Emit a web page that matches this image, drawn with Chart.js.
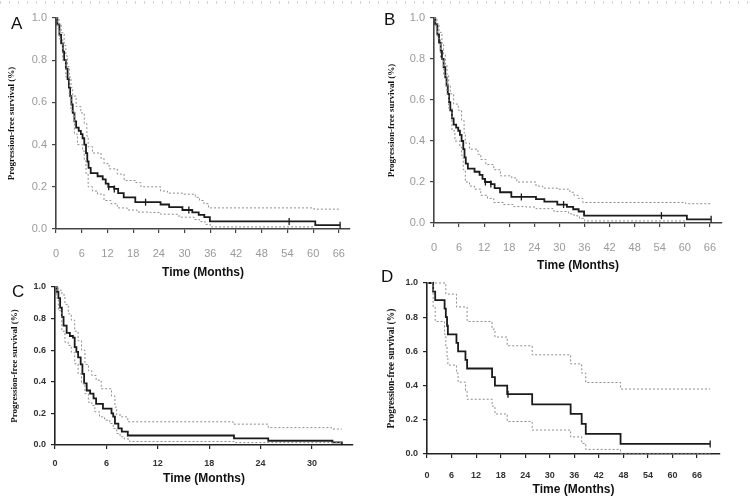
<!DOCTYPE html>
<html>
<head>
<meta charset="utf-8">
<script src="https://cdn.jsdelivr.net/npm/chart.js@4.4.0/dist/chart.umd.min.js"></script>
<style>
  body { margin: 0; background: #fff; }
  #page { position: relative; width: 750px; height: 500px; overflow: hidden; background: #fff; }
  .panel { position: absolute; }
  .panel canvas { display: block; }
  .letter { position: absolute; font: 17px/17px "Liberation Sans", Arial, sans-serif; color: #111; }
  .edge { position: absolute; left: 0; top: 1px; width: 750px; height: 3px;
          background: repeating-linear-gradient(90deg, #d4d4d4 0 1px, transparent 1px 9px); }
</style>
</head>
<body>
<div id="page">
  <div class="edge"></div>
  <div class="panel" style="left:0;top:0"><canvas id="chartA" width="365" height="285"></canvas></div>
  <div class="panel" style="left:375px;top:0"><canvas id="chartB" width="360" height="280"></canvas></div>
  <div class="panel" style="left:0;top:270px"><canvas id="chartC" width="365" height="222"></canvas></div>
  <div class="panel" style="left:375px;top:265px"><canvas id="chartD" width="360" height="235"></canvas></div>
  <div class="letter" style="left:11px;top:15px">A</div>
  <div class="letter" style="left:384px;top:11px">B</div>
  <div class="letter" style="left:12px;top:283px">C</div>
  <div class="letter" style="left:381px;top:268px">D</div>
</div>
<script>
// Panels A and B show the same Kaplan-Meier curve
const abTime = [0, 0.3, 0.8, 1.2, 1.6, 1.9, 2.3, 2.7, 3.0, 3.3, 3.6, 3.9, 4.3, 4.7, 5.3, 5.8, 6.2, 6.6, 7.0, 7.3, 7.6, 8.1, 9.7, 10.9, 11.6, 12.2, 13.6, 14.5, 15.8, 18.5, 24.4, 26.4, 29.5, 31.8, 33.3, 34.6, 35.9, 60.5, 66.3];
const abSurv = [1, 0.97, 0.92, 0.88, 0.84, 0.80, 0.76, 0.71, 0.67, 0.63, 0.59, 0.55, 0.51, 0.48, 0.465, 0.45, 0.43, 0.40, 0.36, 0.32, 0.29, 0.265, 0.25, 0.235, 0.215, 0.2, 0.19, 0.17, 0.15, 0.127, 0.116, 0.104, 0.09, 0.079, 0.067, 0.056, 0.036, 0.018, 0.018];
const abUpperTime = [0, 0.7, 1.2, 1.9, 2.3, 2.7, 3.1, 3.5, 3.9, 4.7, 5.8, 6.6, 7.2, 7.5, 8.5, 10.5, 11.2, 12.4, 14.3, 15.9, 18.6, 19.8, 24.4, 26.0, 29.5, 32.5, 33.5, 34.5, 35.6, 60.2, 66.3];
const abUpper = [1, 0.97, 0.93, 0.87, 0.82, 0.77, 0.72, 0.67, 0.63, 0.58, 0.55, 0.5, 0.44, 0.39, 0.36, 0.335, 0.31, 0.285, 0.26, 0.23, 0.22, 0.2, 0.18, 0.17, 0.165, 0.15, 0.135, 0.12, 0.1, 0.094, 0.094];
const abLowerTime = [0, 0.4, 0.8, 1.55, 2.3, 3.1, 3.5, 4.3, 5.0, 6.2, 6.6, 7.0, 7.5, 8.5, 9.7, 11.2, 12.8, 14.3, 16.6, 18.9, 22, 24.4, 28.7, 32.2, 33.5, 34.8, 36.0, 60.5];
const abLower = [1, 0.95, 0.9, 0.8, 0.72, 0.63, 0.56, 0.45, 0.4, 0.37, 0.33, 0.26, 0.2, 0.18, 0.165, 0.135, 0.12, 0.1, 0.09, 0.08, 0.078, 0.07, 0.056, 0.045, 0.035, 0.022, 0.01, 0.01];
const abCensorTime = [12.3, 13.6, 20.9, 31.0, 54.4, 66.3];
const abCensorSurv = [0.2, 0.19, 0.127, 0.09, 0.036, 0.018];

const cTime = [0, 0.2, 0.4, 0.6, 0.8, 1.0, 1.36, 1.74, 2.1, 2.3, 2.5, 2.7, 3.0, 3.2, 3.4, 3.7, 4.1, 4.5, 4.8, 5.6, 6.6, 6.8, 7.0, 7.4, 7.8, 8.5, 20.9, 24.9, 32.4, 33.5];
const cSurv = [1, 0.97, 0.93, 0.87, 0.81, 0.755, 0.71, 0.69, 0.68, 0.62, 0.59, 0.555, 0.51, 0.45, 0.39, 0.345, 0.325, 0.295, 0.26, 0.23, 0.2, 0.18, 0.135, 0.105, 0.085, 0.06, 0.042, 0.027, 0.017, 0];
const cUpperTime = [0, 0.4, 0.8, 1.16, 1.55, 1.9, 2.3, 2.7, 3.1, 3.5, 3.9, 4.3, 4.8, 5.4, 6.6, 7.0, 7.2, 7.75, 8.5, 20.8, 24.9, 32.3, 33.5];
const cUpper = [1, 0.98, 0.95, 0.89, 0.83, 0.79, 0.72, 0.66, 0.6, 0.51, 0.47, 0.44, 0.41, 0.356, 0.31, 0.24, 0.19, 0.178, 0.147, 0.132, 0.11, 0.101, 0.101];
const cLowerTime = [0, 0.2, 0.4, 0.8, 1.16, 1.55, 1.9, 2.3, 2.7, 3.1, 3.5, 3.9, 4.3, 4.65, 5.2, 5.8, 6.4, 6.8, 7.2, 7.6, 8.1, 8.7, 20.9, 33.5];
const cLower = [1, 0.93, 0.85, 0.72, 0.65, 0.63, 0.587, 0.514, 0.45, 0.39, 0.325, 0.27, 0.25, 0.21, 0.178, 0.157, 0.136, 0.105, 0.073, 0.052, 0.038, 0.022, 0.015, 0.015];

const dTime = [0, 1.5, 2.0, 4.3, 4.6, 4.9, 5.1, 7.2, 7.6, 9.4, 9.8, 15.9, 16.6, 19.6, 25.7, 35.1, 37.8, 38.8, 47.3, 69.2];
const dSurv = [1, 0.95, 0.9, 0.85, 0.8, 0.75, 0.7, 0.65, 0.6, 0.55, 0.5, 0.45, 0.4, 0.35, 0.29, 0.235, 0.176, 0.118, 0.059, 0.059];
const dUpperTime = [0, 4.6, 7.2, 9.8, 15.9, 16.6, 19.6, 25.7, 35.1, 37.8, 38.8, 47.3, 69.2];
const dUpper = [1, 0.935, 0.86, 0.775, 0.73, 0.684, 0.633, 0.58, 0.527, 0.473, 0.418, 0.38, 0.38];
const dLowerTime = [0, 1.5, 2.0, 4.3, 4.6, 4.9, 5.1, 7.2, 7.6, 9.4, 9.8, 15.9, 16.6, 19.6, 25.7, 35.1, 37.8, 38.8, 47.3, 69.2];
const dLower = [1, 0.86, 0.775, 0.7, 0.63, 0.57, 0.52, 0.473, 0.42, 0.37, 0.32, 0.28, 0.234, 0.19, 0.14, 0.1, 0.062, 0.027, 0.004, 0.004];
const dCensorTime = [19.8, 69.2];
const dCensorSurv = [0.35, 0.059];

const yTitle = "Progression-free survival (%)";
const xTitle = "Time (Months)";

const lightStyle = {
  tickFont: { family: "'Liberation Sans Narrow', 'Arial Narrow', 'Liberation Sans', sans-serif", size: 11 },
  tickColor: "#9a9a9a",
  axisColor: "#444",
};
const darkStyle = {
  tickFont: { family: "'Liberation Sans', Arial, sans-serif", size: 9, weight: "bold" },
  tickColor: "#333",
  axisColor: "#222",
};

function toPoints(times, values) {
  return times.map((t, i) => ({ x: t, y: values[i] }));
}

function ciLine(times, values) {
  return {
    data: toPoints(times, values),
    stepped: true,
    borderColor: "#8c8c8c",
    borderWidth: 1,
    borderDash: [2, 2],
    pointRadius: 0,
    clip: false,
  };
}

function kmChart(canvasId, cfg) {
  const ctx = document.getElementById(canvasId).getContext("2d");
  const st = cfg.style;
  const datasets = [
    ciLine(cfg.upperTime, cfg.upper),
    ciLine(cfg.lowerTime, cfg.lower),
    {
      data: toPoints(cfg.time, cfg.surv),
      stepped: true,
      borderColor: "#1b1b1b",
      borderWidth: 1.8,
      pointRadius: 0,
      clip: false,
    },
  ];
  if (cfg.censorTime) {
    datasets.push({
      data: toPoints(cfg.censorTime, cfg.censorSurv),
      showLine: false,
      pointStyle: "line",
      pointRotation: 90,
      pointRadius: 3.5,
      pointBorderColor: "#1b1b1b",
      pointBorderWidth: 1.3,
      clip: false,
    });
  }
  return new Chart(ctx, {
    type: "line",
    data: { datasets },
    options: {
      responsive: false,
      animation: false,
      layout: { padding: cfg.pad },
      plugins: { legend: { display: false }, tooltip: { enabled: false } },
      scales: {
        x: {
          type: "linear",
          min: 0,
          max: cfg.xMax,
          afterFit: (scale) => { scale.height = cfg.xHeight; },
          grid: { drawOnChartArea: false, drawTicks: true, tickLength: 4, color: st.axisColor, lineWidth: 1.2 },
          border: { display: true, color: st.axisColor, width: 1.6 },
          ticks: {
            stepSize: 6,
            includeBounds: false,
            color: st.tickColor,
            font: st.tickFont,
            padding: cfg.xTickPad,
            maxRotation: 0,
            callback: (v) => v,
          },
          title: {
            display: true,
            text: xTitle,
            color: "#111",
            font: { family: "'Liberation Sans Narrow', 'Arial Narrow', 'Liberation Sans', sans-serif", size: 12, weight: "bold" },
            padding: { top: 0, bottom: cfg.xTitlePad },
          },
        },
        y: {
          min: 0,
          max: 1,
          afterFit: (scale) => { scale.width = cfg.yWidth; },
          grid: { drawOnChartArea: false, drawTicks: true, tickLength: 4, color: st.axisColor, lineWidth: 1.2 },
          border: { display: true, color: st.axisColor, width: 1.6 },
          ticks: {
            stepSize: 0.2,
            color: st.tickColor,
            font: st.tickFont,
            padding: 5,
            callback: (v) => v.toFixed(1),
          },
          title: {
            display: true,
            text: yTitle,
            color: "#111",
            font: { family: "'Liberation Serif', 'Times New Roman', serif", size: cfg.yTitleSize, weight: "bold" },
            padding: { top: cfg.yTitlePad, bottom: 0 },
          },
        },
      },
    },
  });
}

kmChart("chartA", {
  time: abTime, surv: abSurv, upperTime: abUpperTime, upper: abUpper, lowerTime: abLowerTime, lower: abLower,
  censorTime: abCensorTime, censorSurv: abCensorSurv, style: lightStyle,
  xMax: 68.6, pad: { left: 2, top: 18, right: 15, bottom: 0 },
  yWidth: 54, xHeight: 56, xTickPad: 14, xTitlePad: 5, yTitlePad: 4.6, yTitleSize: 9,
});

kmChart("chartB", {
  time: abTime, surv: abSurv, upperTime: abUpperTime, upper: abUpper, lowerTime: abLowerTime, lower: abLower,
  censorTime: abCensorTime, censorSurv: abCensorSurv, style: lightStyle,
  xMax: 68.9, pad: { left: 2, top: 18, right: 13, bottom: 0 },
  yWidth: 57, xHeight: 57, xTickPad: 14, xTitlePad: 7, yTitlePad: 9.6, yTitleSize: 9,
});

kmChart("chartC", {
  time: cTime, surv: cSurv, upperTime: cUpperTime, upper: cUpper, lowerTime: cLowerTime, lower: cLower,
  style: darkStyle,
  xMax: 34.8, pad: { left: 2, top: 17, right: 12, bottom: 0 },
  yWidth: 53, xHeight: 47, xTickPad: 9, xTitlePad: 6.5, yTitlePad: 7.6, yTitleSize: 9,
});

kmChart("chartD", {
  time: dTime, surv: dSurv, upperTime: dUpperTime, upper: dUpper, lowerTime: dLowerTime, lower: dLower,
  censorTime: dCensorTime, censorSurv: dCensorSurv, style: darkStyle,
  xMax: 71.6, pad: { left: 2, top: 18, right: 15, bottom: 0 },
  yWidth: 50, xHeight: 46, xTickPad: 12, xTitlePad: 3.5, yTitlePad: 9.3, yTitleSize: 9.5,
});
</script>
</body>
</html>
